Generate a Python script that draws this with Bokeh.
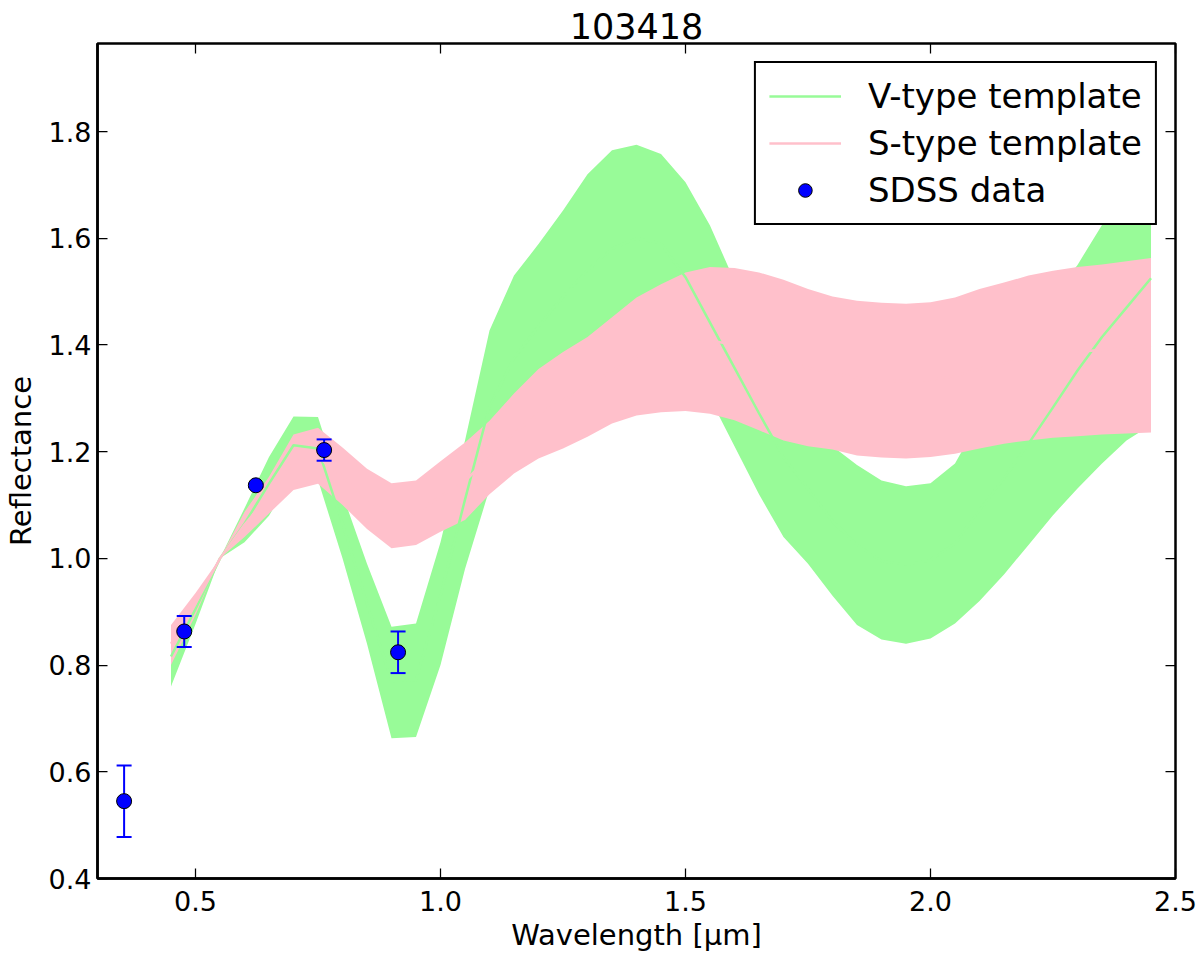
# Script to plot SDSS colours of asteroid 103418 against the V- and S-type templates with bokeh

##### IMPORT NECESSARY MODULES #####
from bokeh.plotting import figure
from bokeh.models import Range1d, LinearAxis, FixedTicker, Legend, LegendItem
from bokeh.embed import file_html
from bokeh.resources import INLINE

#### DATA ####
# template wavelengths in micron
template_wave = [0.45, 0.50, 0.55, 0.60, 0.65, 0.70, 0.75, 0.80, 0.85, 0.90,
                 0.95, 1.00, 1.05, 1.10, 1.15, 1.20, 1.25, 1.30, 1.35, 1.40,
                 1.45, 1.50, 1.55, 1.60, 1.65, 1.70, 1.75, 1.80, 1.85, 1.90,
                 1.95, 2.00, 2.05, 2.10, 2.15, 2.20, 2.25, 2.30, 2.35, 2.40,
                 2.45]

# V-type template: mean and lower / upper edge of the band
v_mean = [0.816, 0.905, 1.000, 1.065, 1.140, 1.212, 1.206, 1.065, 0.915, 0.770,
          0.772, 0.930, 1.110, 1.285, 1.375, 1.435, 1.490, 1.540, 1.580, 1.600,
          1.590, 1.527, 1.442, 1.357, 1.272, 1.190, 1.130, 1.070, 1.025, 0.995,
          0.988, 0.997, 1.028, 1.090, 1.150, 1.215, 1.283, 1.352, 1.415, 1.470,
          1.525]
v_lower = [0.760, 0.877, 1.000, 1.030, 1.080, 1.158, 1.147, 1.000, 0.840, 0.663,
           0.665, 0.800, 0.980, 1.130, 1.220, 1.280, 1.320, 1.360, 1.400, 1.420,
           1.420, 1.380, 1.300, 1.210, 1.120, 1.040, 0.990, 0.930, 0.875, 0.848,
           0.840, 0.850, 0.878, 0.920, 0.970, 1.025, 1.081, 1.131, 1.178, 1.221,
           1.250]
v_upper = [0.870, 0.930, 1.000, 1.094, 1.190, 1.266, 1.265, 1.120, 0.990, 0.872,
           0.878, 1.030, 1.221, 1.427, 1.530, 1.589, 1.652, 1.720, 1.765, 1.775,
           1.758, 1.705, 1.624, 1.520, 1.420, 1.330, 1.265, 1.210, 1.175, 1.146,
           1.135, 1.141, 1.178, 1.260, 1.340, 1.420, 1.490, 1.550, 1.625, 1.700,
           1.760]

# S-type template: mean and lower / upper edge of the band
s_mean = [0.840, 0.915, 1.000, 1.063, 1.118, 1.180, 1.190, 1.154, 1.110, 1.080,
          1.085, 1.116, 1.145, 1.190, 1.234, 1.271, 1.296, 1.322, 1.352, 1.378,
          1.394, 1.406, 1.408, 1.401, 1.388, 1.371, 1.357, 1.347, 1.338, 1.334,
          1.332, 1.335, 1.342, 1.355, 1.366, 1.375, 1.382, 1.387, 1.391, 1.395,
          1.399]
s_lower = [0.800, 0.894, 1.000, 1.040, 1.084, 1.128, 1.140, 1.100, 1.055, 1.019,
           1.025, 1.050, 1.072, 1.120, 1.159, 1.187, 1.206, 1.228, 1.253, 1.268,
           1.274, 1.276, 1.271, 1.259, 1.240, 1.221, 1.210, 1.204, 1.193, 1.189,
           1.187, 1.190, 1.196, 1.206, 1.215, 1.221, 1.226, 1.229, 1.232, 1.234,
           1.236]
s_upper = [0.875, 0.935, 1.000, 1.087, 1.153, 1.232, 1.245, 1.208, 1.168, 1.141,
           1.146, 1.182, 1.217, 1.258, 1.309, 1.355, 1.387, 1.415, 1.452, 1.489,
           1.514, 1.536, 1.546, 1.544, 1.536, 1.522, 1.505, 1.491, 1.483, 1.479,
           1.477, 1.480, 1.489, 1.505, 1.517, 1.530, 1.539, 1.546, 1.551, 1.557,
           1.563]

# SDSS u g r i z points
sdss_wave = [0.3543, 0.4770, 0.6231, 0.7625, 0.9134]
sdss_refl = [0.545, 0.863, 1.137, 1.203, 0.824]
sdss_err = [0.067, 0.029, 0.003, 0.020, 0.039]

# ticks
x_ticks = [0.5, 1.0, 1.5, 2.0, 2.5]
x_tick_labels = ["0.5", "1.0", "1.5", "2.0", "2.5"]
y_ticks = [0.4, 0.6, 0.8, 1.0, 1.2, 1.4, 1.6, 1.8]
y_tick_labels = ["0.4", "0.6", "0.8", "1.0", "1.2", "1.4", "1.6", "1.8"]

#### FIGURE ####
p = figure(width=1200, height=958, title="103418",
           x_range=Range1d(0.3, 2.5), y_range=Range1d(0.4, 1.965),
           output_backend="svg", toolbar_location=None,
           min_border_left=97, min_border_right=25, min_border_top=43, min_border_bottom=80)
p.background_fill_color = "white"
p.border_fill_color = "white"
p.grid.visible = False
p.outline_line_color = "black"
p.outline_line_alpha = 1
p.outline_line_width = 2.5

p.title.align = "center"
p.title.text_color = "black"
p.title.text_font = "DejaVu Sans"
p.title.text_font_size = "35px"
p.title.text_font_style = "normal"
p.title.standoff = 10

#template bands, then the template lines on top
p.varea(x=template_wave, y1=v_lower, y2=v_upper, fill_color="palegreen")
p.varea(x=template_wave, y1=s_lower, y2=s_upper, fill_color="pink")
v_line = p.line(template_wave, v_mean, line_color="palegreen", line_width=2.5)
s_line = p.line(template_wave, s_mean, line_color="pink", line_width=2.5)

#sdss points with error bars
err_lo = [r - e for r, e in zip(sdss_refl, sdss_err)]
err_hi = [r + e for r, e in zip(sdss_refl, sdss_err)]
p.segment(x0=sdss_wave, y0=err_lo, x1=sdss_wave, y1=err_hi, line_color="blue", line_width=2)
p.scatter(sdss_wave, err_lo, marker="dash", size=15, line_color="blue", line_width=2)
p.scatter(sdss_wave, err_hi, marker="dash", size=15, line_color="blue", line_width=2)
sdss_pts = p.scatter(sdss_wave, sdss_refl, marker="circle", size=15,
                     fill_color="blue", line_color="black", line_width=1)

#### AXES ####
p.xaxis.axis_label = "Wavelength [\u03bcm]"
p.yaxis.axis_label = "Reflectance"
p.xaxis.ticker = FixedTicker(ticks=x_ticks)
p.yaxis.ticker = FixedTicker(ticks=y_ticks)
p.xaxis.major_label_overrides = dict(zip(x_ticks, x_tick_labels))
p.yaxis.major_label_overrides = dict(zip(y_ticks, y_tick_labels))

for ax in [p.xaxis[0], p.yaxis[0]]:
    ax.major_tick_in = 10
    ax.major_tick_out = 0
    ax.major_tick_line_width = 1.25
    ax.major_tick_line_color = "black"
    ax.minor_tick_line_color = None
    ax.axis_line_width = 2.5
    ax.axis_line_color = "black"
    ax.major_label_text_color = "black"
    ax.major_label_text_font = "DejaVu Sans"
    ax.major_label_text_font_size = "27px"
    ax.axis_label_text_color = "black"
    ax.axis_label_text_font = "DejaVu Sans"
    ax.axis_label_text_font_size = "29px"
    ax.axis_label_text_font_style = "normal"
p.xaxis.major_label_standoff = 12
p.xaxis.axis_label_standoff = 4
p.yaxis.major_label_standoff = 6
p.yaxis.axis_label_standoff = 8

#ticks on the top and right side as well, no labels
top_axis = LinearAxis(ticker=FixedTicker(ticks=x_ticks))
right_axis = LinearAxis(ticker=FixedTicker(ticks=y_ticks))
for ax in [top_axis, right_axis]:
    ax.major_tick_in = 10
    ax.major_tick_out = 0
    ax.major_tick_line_width = 1.25
    ax.major_tick_line_color = "black"
    ax.minor_tick_line_color = None
    ax.axis_line_color = None
    ax.major_label_text_color = None
    ax.major_label_standoff = 0
p.add_layout(top_axis, "above")
p.add_layout(right_axis, "right")

#### LEGEND ####
legend = Legend(items=[LegendItem(label="V-type template", renderers=[v_line]),
                       LegendItem(label="S-type template", renderers=[s_line]),
                       LegendItem(label="SDSS data", renderers=[sdss_pts])],
                location="top_right")
legend.border_line_color = "black"
legend.border_line_alpha = 1
legend.border_line_width = 2.5
legend.background_fill_alpha = 1
legend.label_text_color = "black"
legend.label_text_font = "DejaVu Sans"
legend.label_text_font_size = "34px"
legend.glyph_width = 72
legend.glyph_height = 34
legend.padding = 13
legend.spacing = 7
legend.label_standoff = 27
legend.margin = 18
p.add_layout(legend)

open("out.html", "w").write(file_html(p, INLINE))
